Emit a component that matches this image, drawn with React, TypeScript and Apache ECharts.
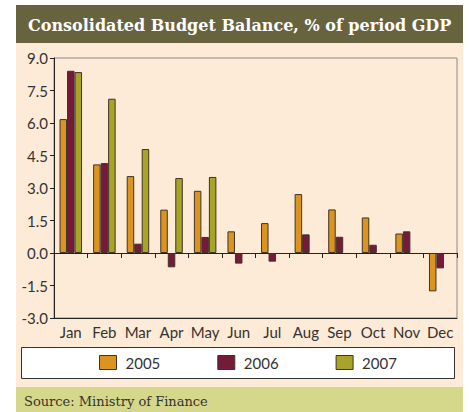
import React, { useEffect, useRef } from "react";
import * as echarts from "echarts";

const months = ["Jan", "Feb", "Mar", "Apr", "May", "Jun", "Jul", "Aug", "Sep", "Oct", "Nov", "Dec"];
const s2005 = [6.18, 4.09, 3.55, 2.0, 2.87, 1.0, 1.38, 2.72, 2.01, 1.64, 0.9, -1.77];
const s2006 = [8.41, 4.15, 0.43, -0.66, 0.74, -0.49, -0.4, 0.86, 0.75, 0.38, 1.0, -0.71];
const s2007 = [8.35, 7.12, 4.8, 3.46, 3.51, null, null, null, null, null, null, null];
const seriesNames = ["2005", "2006", "2007"];
const colors = ["#dc9420", "#761a3a", "#a9a428"];
const titleText = "Consolidated Budget Balance, % of period GDP";
const sourceText = "Source: Ministry of Finance";

const LABEL_FONT = "Lato";
const SERIF_FONT = "DejaVu Serif";

export default function App() {
  const ref = useRef<HTMLDivElement>(null);
  useEffect(() => {
    if (!ref.current) return;
    const chart = echarts.init(ref.current, undefined, { renderer: "svg" });
    const data = [s2005, s2006, s2007];
    chart.setOption({
      animation: false,
      backgroundColor: "#ffffff",
      graphic: [
        { type: "rect", z: -10, shape: { x: 16, y: 5, width: 447, height: 38 }, style: { fill: "#67633f" } },
        { type: "rect", z: -10, shape: { x: 16, y: 43, width: 447, height: 344 }, style: { fill: "#fdebd7" } },
        { type: "rect", z: -10, shape: { x: 16, y: 387, width: 447, height: 25 }, style: { fill: "#d5d88a" } },
        { type: "rect", z: -5, shape: { x: 21.5, y: 347.5, width: 433, height: 31 }, style: { fill: "#ffffff", stroke: "#333333", lineWidth: 1 } },
        {
          type: "text", x: 28, y: 25, z: 5,
          style: {
            text: titleText, fill: "#ffffff", fontFamily: SERIF_FONT, fontWeight: "bold", fontSize: 16,
            verticalAlign: "middle",
          },
        },
        {
          type: "text", x: 24, y: 401, z: 5,
          style: {
            text: sourceText, fill: "#333333", fontFamily: SERIF_FONT, fontSize: 13,
            verticalAlign: "middle",
          },
        },
      ],
      grid: {
        left: 54, right: 12, top: 58, bottom: 94,
        show: true, borderColor: "#888888", borderWidth: 1, backgroundColor: "transparent",
      },
      legend: {
        left: 99, top: 355, padding: 0,
        itemWidth: 17, itemHeight: 14, itemGap: 57,
        icon: "rect",
        data: seriesNames,
        itemStyle: { borderColor: "#3d3428", borderWidth: 1 },
        textStyle: { fontSize: 15, color: "#333333", fontFamily: LABEL_FONT, padding: [0, 0, 0, 4] },
      },
      xAxis: [
        {
          type: "category", data: months, position: "bottom",
          axisLine: { onZero: false, lineStyle: { color: "#222222" } },
          axisTick: { show: false },
          axisLabel: { fontSize: 15, color: "#333333", fontFamily: LABEL_FONT, margin: 6, interval: 0 },
        },
        {
          type: "category", data: months, position: "bottom",
          axisLine: { onZero: true, lineStyle: { color: "#222222" } },
          axisTick: { show: true, length: 5, lineStyle: { color: "#222222" } },
          axisLabel: { show: false },
        },
      ],
      yAxis: {
        type: "value", min: -3, max: 9, interval: 1.5,
        axisLine: { show: true, lineStyle: { color: "#222222" } },
        axisTick: { show: true, length: 4, lineStyle: { color: "#222222" } },
        axisLabel: {
          fontSize: 15, color: "#333333", fontFamily: LABEL_FONT, margin: 6,
          formatter: (v: number) => v.toFixed(1),
        },
        splitLine: {
          show: true,
          lineStyle: { color: "#3a3a3a", width: 1, shadowColor: "rgba(0,0,0,0.35)", shadowOffsetY: 1, shadowBlur: 0 },
        },
      },
      series: seriesNames.map((name, i) => ({
        name, type: "bar", xAxisIndex: 0, data: data[i],
        barWidth: 7.5, barGap: "0%",
        itemStyle: { color: colors[i], borderColor: "#3d3428", borderWidth: 1 },
      })),
    });
    return () => chart.dispose();
  }, []);
  return <div ref={ref} style={{ position: "absolute", left: 0, top: 0, width: 469, height: 412 }} />;
}
